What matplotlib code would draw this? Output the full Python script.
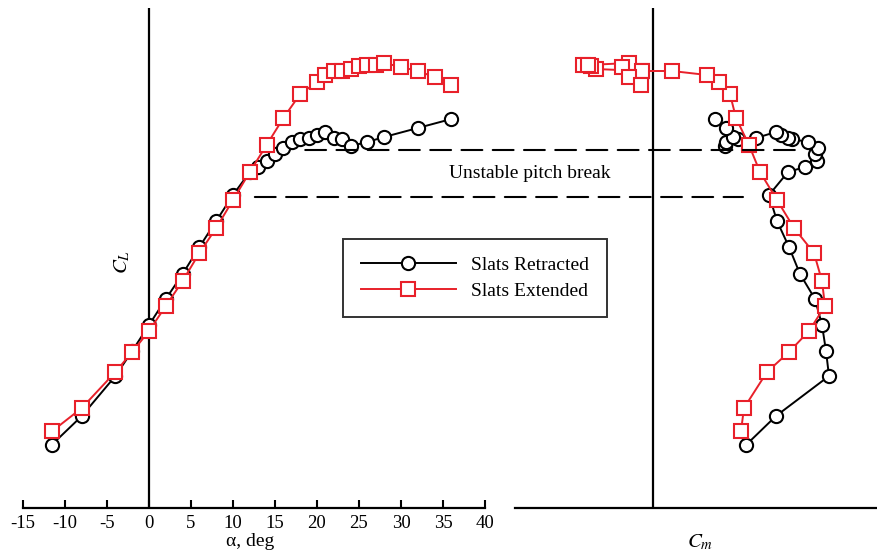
import matplotlib
matplotlib.use("Agg")
import matplotlib.pyplot as plt
from matplotlib.patches import ConnectionPatch

plt.rcParams['font.family'] = ['Liberation Serif', 'DejaVu Serif']
plt.rcParams['mathtext.fontset'] = 'stix'
plt.rcParams['axes.unicode_minus'] = False

# slats retracted
alpha_ret = [-11.6, -8, -4, -2, 0, 2, 4, 6, 8, 10, 12, 13, 14, 15, 16, 17, 18, 19,
             20, 21, 22, 23, 24, 26, 28, 32, 36]
cl_ret = [0.252, 0.368, 0.528, 0.628, 0.732, 0.836, 0.936, 1.044, 1.148, 1.252,
          1.344, 1.364, 1.388, 1.416, 1.440, 1.464, 1.476, 1.480, 1.492, 1.504,
          1.480, 1.476, 1.448, 1.464, 1.484, 1.520, 1.556]
cm_ret = [0.093, 0.123, 0.176, 0.173, 0.169, 0.162, 0.147, 0.136, 0.124, 0.116,
          0.135, 0.152, 0.164, 0.162, 0.165, 0.155, 0.139, 0.135, 0.128, 0.123,
          0.103, 0.085, 0.072, 0.073, 0.080, 0.073, 0.062]

# slats extended
alpha_ext = [-11.5, -8, -4, -2, 0, 2, 4, 6, 8, 10, 12, 14, 16, 18, 20, 21, 22, 23,
             24, 25, 26, 27, 28, 30, 32, 34, 36]
cl_ext = [0.308, 0.400, 0.544, 0.624, 0.708, 0.808, 0.908, 1.020, 1.120, 1.232,
          1.344, 1.452, 1.560, 1.656, 1.704, 1.732, 1.748, 1.748, 1.756, 1.768,
          1.772, 1.772, 1.780, 1.764, 1.748, 1.724, 1.692]
cm_ext = [0.088, 0.091, 0.114, 0.136, 0.156, 0.172, 0.169, 0.161, 0.141, 0.124,
          0.107, 0.096, 0.083, 0.077, 0.066, 0.054, 0.019, -0.011, -0.057, -0.062,
          -0.070, -0.065, -0.024, -0.031, -0.011, -0.024, -0.012]

alpha_ticks = [-15, -10, -5, 0, 5, 10, 15, 20, 25, 30, 35, 40]

# pitch break levels (CL) and where the dashes start / stop
break_cl = [1.432, 1.244]
break_alpha = [18.6, 12.6]
break_cm = [0.147, 0.090]

red = '#e8202a'
fig = plt.figure(figsize=(8.78, 5.59), dpi=100)
axL = fig.add_axes([23/878, 51/559, 462/878, 500/559])
axR = fig.add_axes([515/878, 51/559, 363/878, 500/559])

style_ret = dict(color='black', marker='o', ms=9.5, mfc='white', mew=1.5, lw=1.4)
style_ext = dict(color=red, marker='s', ms=9.5, mfc='white', mew=1.5, lw=1.4)

axL.plot(alpha_ret, cl_ret, label='Slats Retracted', **style_ret)
axL.plot(alpha_ext, cl_ext, label='Slats Extended', **style_ext)
axR.plot(cm_ret, cl_ret, **style_ret)
axR.plot(cm_ext, cl_ext, **style_ext)

for ax in (axL, axR):
    ax.set_ylim(0, 2.0)
    ax.axvline(0, color='black', lw=1.6, zorder=0)
    for s in ('top', 'left', 'right'):
        ax.spines[s].set_visible(False)
    ax.spines['bottom'].set_linewidth(1.6)
    ax.set_yticks([])
    ax.patch.set_alpha(0)

axL.set_xlim(-15, 40)
axL.set_xticks(alpha_ticks)
axL.tick_params(axis='x', direction='in', length=6, width=1.5, labelsize=13.5, pad=5)
axR.set_xlim(-0.138, 0.225)
axR.set_xticks([])

for cl, a, cm in zip(break_cl, break_alpha, break_cm):
    con = ConnectionPatch(xyA=(a, cl), coordsA=axL.transData,
                          xyB=(cm, cl), coordsB=axR.transData,
                          color='black', lw=1.5, linestyle=(0, (10, 5)))
    fig.add_artist(con)

fig.text(530/878, 1 - 174/559, 'Unstable pitch break', ha='center', va='center', fontsize=14)
fig.text(250/878, 1 - 541/559, 'α, deg', ha='center', va='center', fontsize=14)
fig.text(122/878, 1 - 262/559, '$C_L$', ha='center', va='center', fontsize=15, rotation=90)
fig.text(700/878, 1 - 542/559, '$C_m$', ha='center', va='center', fontsize=15)

leg = axL.legend(loc='center', bbox_to_anchor=(475/878, 1 - 278/559),
                 bbox_transform=fig.transFigure, fontsize=14, frameon=True,
                 fancybox=False, edgecolor='black', handlelength=4.9,
                 handletextpad=0.8, borderpad=0.9, labelspacing=0.45,
                 borderaxespad=0)
leg.get_frame().set_linewidth(1.4)

fig.savefig('out.png', dpi=100)
